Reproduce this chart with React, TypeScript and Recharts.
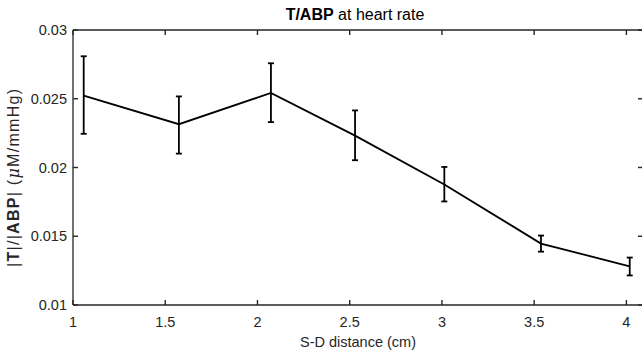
import { ComposedChart, Line, XAxis, YAxis, ErrorBar } from 'recharts';

// S-D distance (cm) and |T|/|ABP| mean with error bar ends
const distances = [1.058, 1.574, 2.073, 2.529, 3.013, 3.537, 4.018];
const means = [0.02522, 0.02315, 0.02542, 0.02232, 0.01877, 0.01447, 0.01281];
const upper = [0.02809, 0.02517, 0.02758, 0.02415, 0.02004, 0.01505, 0.01345];
const lower = [0.02245, 0.02101, 0.0233, 0.02053, 0.01753, 0.01388, 0.01215];

const xTicks = [1, 1.5, 2, 2.5, 3, 3.5, 4];
const yTicks = [0.01, 0.015, 0.02, 0.025, 0.03];
const xMax = 4.09;

const data = distances.map((x, i) => ({
    x,
    y: means[i],
    err: [means[i] - lower[i], upper[i] - means[i]],
}));

const ink = '#262626';
const font = '"Liberation Sans", Arial, Helvetica, sans-serif';
const TICK_LEN = 5;
const TICK_FONT = 14.5;

// matlab style: tick marks point into the plot
const BottomTick = ({ x, y, payload }: any) => (
    <g>
        <line x1={x} y1={y} x2={x} y2={y - TICK_LEN} stroke={ink} strokeWidth={1.4} />
        <text x={x} y={y + 22} textAnchor="middle" fill={ink} fontSize={TICK_FONT} fontFamily={font}>
            {String(payload.value)}
        </text>
    </g>
);

const LeftTick = ({ x, y, payload }: any) => (
    <g>
        <line x1={x} y1={y} x2={x + TICK_LEN} y2={y} stroke={ink} strokeWidth={1.4} />
        <text x={x - 6} y={y + 5} textAnchor="end" fill={ink} fontSize={TICK_FONT} fontFamily={font}>
            {String(payload.value)}
        </text>
    </g>
);

const TopTick = ({ x, y }: any) => (
    <line x1={x} y1={y} x2={x} y2={y + TICK_LEN} stroke={ink} strokeWidth={1.4} />
);

const RightTick = ({ x, y }: any) => (
    <line x1={x} y1={y} x2={x - TICK_LEN} y2={y} stroke={ink} strokeWidth={1.4} />
);

export default function App() {
    return (
        <div style={{ position: 'absolute', left: 0, top: 0, width: 642, height: 351, overflow: 'hidden', background: '#fff' }}>
            <ComposedChart
                width={650}
                height={351}
                data={data}
                margin={{ top: 28, right: 5, bottom: 16, left: 13 }}
                style={{ fontFamily: font }}
            >
                <XAxis
                    xAxisId="bottom"
                    type="number"
                    dataKey="x"
                    domain={[1, xMax]}
                    ticks={xTicks}
                    allowDataOverflow
                    height={30}
                    tickSize={0}
                    tickMargin={0}
                    tickLine={false}
                    stroke={ink}
                    strokeWidth={1.3}
                    tick={BottomTick}
                    label={{ value: 'S-D distance (cm)', position: 'insideBottom', offset: -12, fill: ink, fontSize: 14.5 }}
                />
                <XAxis
                    xAxisId="top"
                    orientation="top"
                    type="number"
                    dataKey="x"
                    domain={[1, xMax]}
                    ticks={xTicks}
                    allowDataOverflow
                    height={2}
                    tickSize={0}
                    tickMargin={0}
                    tickLine={false}
                    stroke={ink}
                    strokeWidth={1.3}
                    tick={TopTick}
                />
                <YAxis
                    yAxisId="left"
                    type="number"
                    domain={[0.01, 0.03]}
                    ticks={yTicks}
                    allowDataOverflow
                    width={60}
                    tickSize={0}
                    tickMargin={0}
                    tickLine={false}
                    stroke={ink}
                    strokeWidth={1.3}
                    tick={LeftTick}
                />
                <YAxis
                    yAxisId="right"
                    orientation="right"
                    type="number"
                    domain={[0.01, 0.03]}
                    ticks={yTicks}
                    allowDataOverflow
                    width={2}
                    tickSize={0}
                    tickMargin={0}
                    tickLine={false}
                    stroke={ink}
                    strokeWidth={1.3}
                    tick={RightTick}
                />
                <Line
                    xAxisId="bottom"
                    yAxisId="left"
                    dataKey="y"
                    type="linear"
                    stroke="#000"
                    strokeWidth={1.8}
                    dot={false}
                    isAnimationActive={false}
                >
                    <ErrorBar dataKey="err" direction="y" width={3} stroke="#000" strokeWidth={1.8} />
                </Line>
                <text x={355} y={20} textAnchor="middle" fill="#000" fontSize={16} fontFamily={font}>
                    <tspan fontWeight="bold">T/ABP</tspan>
                    <tspan> at heart rate</tspan>
                </text>
                <text
                    x={0}
                    y={0}
                    transform="translate(19 178) rotate(-90)"
                    textAnchor="middle"
                    fill={ink}
                    fontSize={16}
                    fontFamily={font}
                    textLength={178}
                    lengthAdjust="spacing"
                >
                    <tspan>|</tspan>
                    <tspan fontWeight="bold">T</tspan>
                    <tspan>|/|</tspan>
                    <tspan fontWeight="bold">ABP</tspan>
                    <tspan>| (</tspan>
                    <tspan fontStyle="italic" fontFamily='"DejaVu Serif", serif'>μ</tspan>
                    <tspan>M/mmHg)</tspan>
                </text>
            </ComposedChart>
        </div>
    );
}
